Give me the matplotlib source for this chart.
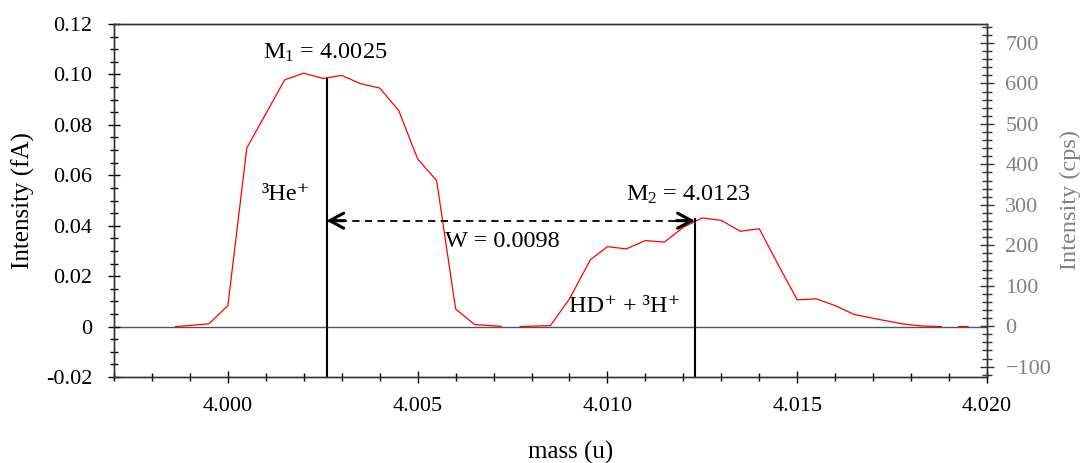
import numpy as np
import matplotlib
matplotlib.use("Agg")
import matplotlib.pyplot as plt
from matplotlib.ticker import MultipleLocator, FuncFormatter

plt.rcParams['font.family'] = ['Liberation Serif', 'DejaVu Serif']
plt.rcParams['mathtext.default'] = 'regular'

# ---- data ----
mass = [3.99862, 3.99889, 3.9995, 4.0000, 4.0005, 4.0010, 4.0015, 4.0020, 4.0025,
        4.0030, 4.0035, 4.0040, 4.0045, 4.0050, 4.0055, 4.0060, 4.0065, 4.0069,
        4.0072, np.nan, 4.0077, 4.0085, 4.0090, 4.00955, 4.0100, 4.0105, 4.0110,
        4.0115, 4.0120, 4.0125, 4.0130, 4.0135, 4.0140, 4.0145, 4.0150, 4.0155,
        4.0160, 4.0165, 4.0172, 4.0178, 4.0183, 4.0188, np.nan, 4.01925, 4.0195]
intensity = [0.0, 0.0003, 0.0011, 0.0083, 0.0709, 0.0844, 0.0979, 0.1005, 0.0984,
             0.0996, 0.0963, 0.0946, 0.0857, 0.0665, 0.0579, 0.0070, 0.0008, 0.0004,
             0.0001, np.nan, 0.0, 0.0004, 0.0110, 0.0265, 0.0317, 0.0308, 0.0341,
             0.0335, 0.0394, 0.0431, 0.0421, 0.0378, 0.0388, 0.0245, 0.0106, 0.0110,
             0.0083, 0.0048, 0.0027, 0.0010, 0.0002, 0.0, np.nan, 0.0, 0.0]

peak_mass = [4.0026, 4.0123]          # M1, M2 marker positions
peak_height = [0.0985, 0.0429]        # top of the marker lines
peak_labels = ['$M_1$ = 4.0025', '$M_2$ = 4.0123']
width_label = 'W = 0.0098'
width_level = 0.042
species_labels = ['\u00b3He\u207a', 'HD\u207a + \u00b3H\u207a']

x_major = [4.000, 4.005, 4.010, 4.015, 4.020]
y_left_major = [-0.02, 0.0, 0.02, 0.04, 0.06, 0.08, 0.10, 0.12]
y_right_major = [-100, 0, 100, 200, 300, 400, 500, 600, 700]

# ---- figure ----
fig = plt.figure(figsize=(10.85, 4.63), dpi=100)
ax = fig.add_axes([114/1085, 1-377/463, (987-114)/1085, (377-24)/463])

ylo, yhi = -0.02, 0.12
ax.set_xlim(3.997, 4.020)
ax.set_ylim(ylo, yhi)

# zero line
ax.axhline(0, color='#555555', lw=1.0, zorder=1)

# spectrum
ax.plot(mass, intensity, color='#ff0000', lw=0.9, zorder=3)

# marker lines
ax.vlines(peak_mass, ylo, peak_height, color='black', lw=1.5, zorder=4)

# dashed width arrow
ax.plot(peak_mass, [width_level, width_level], color='black', lw=1.3,
        dashes=(4, 3), zorder=4)
span = peak_mass[1] - peak_mass[0]
for tip, back in [(peak_mass[0], peak_mass[0] + 0.05 * span),
                  (peak_mass[1], peak_mass[1] - 0.05 * span)]:
    ax.annotate('', xy=(tip, width_level), xytext=(back, width_level),
                arrowprops=dict(arrowstyle='->,head_length=0.5,head_width=0.27',
                                lw=2.2, color='black', mutation_scale=20,
                                shrinkA=0, shrinkB=0), zorder=5)

fs_ann = 17.5
ax.text(4.00257, 0.1063, peak_labels[0], ha='center', va='baseline', fontsize=fs_ann)
ax.text(4.01213, 0.0500, peak_labels[1], ha='center', va='baseline', fontsize=fs_ann)
ax.text(4.00152, 0.0500, species_labels[0], ha='center', va='baseline', fontsize=fs_ann)
ax.text(4.00573, 0.0317, width_label, ha='left', va='baseline', fontsize=fs_ann)
ax.text(4.00900, 0.00567, species_labels[1], ha='left', va='baseline', fontsize=fs_ann)

# ticks left / bottom
fs_tick = 16
ax.set_xticks(x_major)
ax.xaxis.set_minor_locator(MultipleLocator(0.001))
ax.xaxis.set_major_formatter(FuncFormatter(lambda v, p: f'{v:.3f}'))
ax.set_yticks(y_left_major)
ax.yaxis.set_minor_locator(MultipleLocator(0.005))
ax.yaxis.set_major_formatter(FuncFormatter(lambda v, p: '0' if abs(v) < 1e-9 else f'{v:.2f}'))
ax.tick_params(axis='both', which='major', direction='inout', length=9.2, width=1.0,
               labelsize=fs_tick, colors='black')
ax.tick_params(axis='both', which='minor', direction='inout', length=5.5, width=1.0)
ax.tick_params(axis='x', which='major', pad=9.5)
ax.tick_params(axis='y', which='major', pad=11)
ax.tick_params(top=False, right=False, which='both')
for s in ax.spines.values():
    s.set_color('#333333')
    s.set_linewidth(1.0)

ax.set_ylabel('Intensity (fA)', fontsize=18, labelpad=8)

# right axis
ax2 = ax.twinx()
ax2.set_ylim(-125.5, 747)
ax2.set_yticks(y_right_major)
ax2.yaxis.set_minor_locator(MultipleLocator(20))
ax2.tick_params(axis='y', which='major', direction='inout', length=10.5, width=1.0,
                labelsize=fs_tick, labelcolor='#808080', color='#333333', pad=8)
ax2.tick_params(axis='y', which='minor', direction='inout', length=6.5, width=1.0,
                color='#333333')
for s in ax2.spines.values():
    s.set_color('#333333')
    s.set_linewidth(1.0)
ax2.set_ylabel('Intensity (cps)', fontsize=17.5, color='#808080', labelpad=6)

fig.text(571/1085, 1-452/463, 'mass (u)', ha='center', va='center', fontsize=18)

fig.savefig('out.png', dpi=100)
